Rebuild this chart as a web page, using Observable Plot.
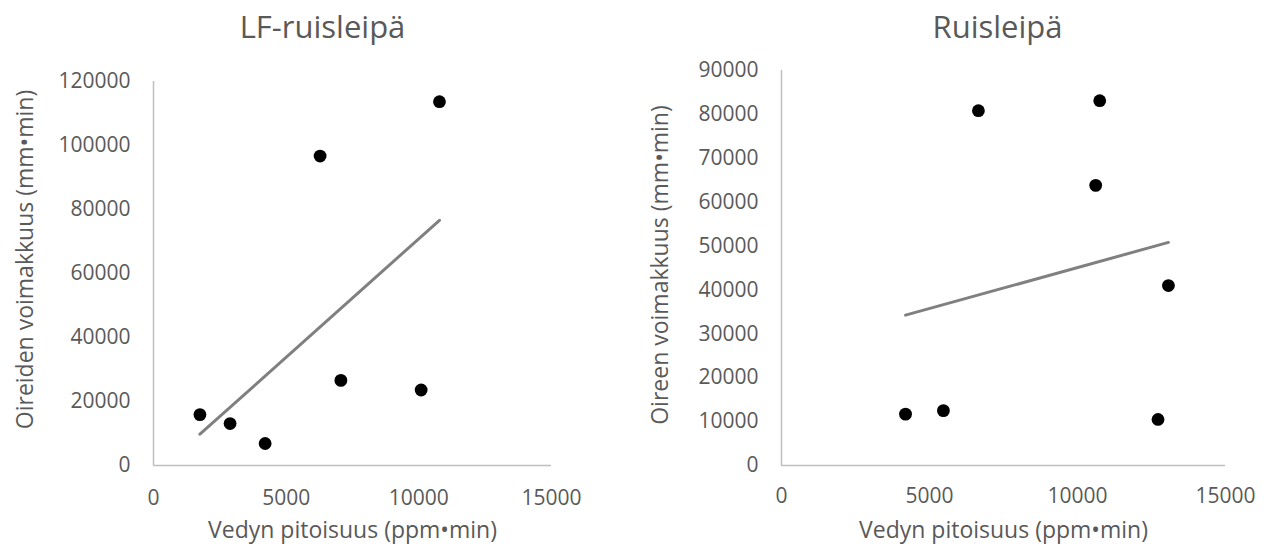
<!DOCTYPE html>
<html><head><meta charset="utf-8">
<script src="https://cdn.jsdelivr.net/npm/d3@7"></script>
<script src="https://cdn.jsdelivr.net/npm/@observablehq/plot@0.6"></script>
<style>
body{margin:0;background:#fff;}
#wrap{position:relative;width:1273px;height:552px;overflow:hidden;background:#fff;}
#left,#right{position:absolute;top:0;}
#left{left:0;}
#right{left:636px;}
</style></head><body>
<div id="wrap"><div id="left"></div><div id="right"></div></div>
<script>
// ---- data ----
const xTicks = [0, 5000, 10000, 15000];
const xLabel = "Vedyn pitoisuus (ppm•min)";

const lfTitle = "LF-ruisleipä";
const lfYLabel = "Oireiden voimakkuus (mm•min)";
const lfYTicks = [0, 20000, 40000, 60000, 80000, 100000, 120000];
const lfX = [1750, 2886, 4207, 6279, 7062, 10087, 10778];
const lfY = [15900, 13100, 6870, 96700, 26600, 23600, 113700];

const rTitle = "Ruisleipä";
const rYLabel = "Oireen voimakkuus (mm•min)";
const rYTicks = [0, 10000, 20000, 30000, 40000, 50000, 60000, 70000, 80000, 90000];
const rX = [4190, 5470, 6652, 10751, 10615, 13072, 12720];
const rY = [11700, 12500, 80850, 83120, 63830, 40990, 10500];

function panel(o) {
  const data = o.xs.map((x, i) => ({x, y: o.ys[i]}));
  return Plot.plot({
    width: o.width, height: 552,
    marginLeft: o.ml, marginRight: o.mr, marginTop: o.mt, marginBottom: o.mb,
    style: {fontFamily: "'Open Sans', sans-serif", fontSize: "21px", color: "#595959", background: "white", overflow: "visible"},
    x: {domain: [0, 15000]},
    y: {domain: [0, o.ymax]},
    marks: [
      Plot.ruleX([0], {stroke: "#bfbfbf", strokeWidth: 1.5}),
      Plot.ruleY([0], {stroke: "#bfbfbf", strokeWidth: 1.5}),
      Plot.axisX(xTicks, {tickSize: 0, tickPadding: o.xpad, tickFormat: d3.format("d"), label: null}),
      Plot.axisY(o.yTicks, {tickSize: 0, tickPadding: 23, tickFormat: d3.format("d"), label: null}),
      Plot.linearRegressionY(data, {x: "x", y: "y", ci: 0, stroke: "#808080", strokeWidth: 3}),
      Plot.dot(data, {x: "x", y: "y", r: 6.4, fill: "black", stroke: "none"}),
      Plot.text([o.title], {text: d => d, frameAnchor: "top", lineAnchor: "bottom", dx: o.tdx, dy: o.tdy, fontSize: 31, fill: "#595959"}),
      Plot.text([o.yLabel], {text: d => d, frameAnchor: "left", rotate: -90, textAnchor: "middle", lineAnchor: "middle", dx: o.ydx, dy: o.ydy, fontSize: 23, fill: "#595959"}),
      Plot.text([xLabel], {text: d => d, frameAnchor: "bottom", lineAnchor: "top", dy: 56, fontSize: 23, fill: "#595959"})
    ]
  });
}

document.getElementById("left").append(panel({
  width: 636, ml: 153, mr: 85, mt: 81, mb: 87, ymax: 120000,
  xs: lfX, ys: lfY, yTicks: lfYTicks, title: lfTitle, yLabel: lfYLabel,
  xpad: 25, tdx: -30, tdy: -44, ydx: -128, ydy: -14
}));
document.getElementById("right").append(panel({
  width: 637, ml: 145, mr: 48, mt: 70, mb: 87, ymax: 90000,
  xs: rX, ys: rY, yTicks: rYTicks, title: rTitle, yLabel: rYLabel,
  xpad: 23, tdx: -6, tdy: -33, ydx: -121, ydy: -3
}));
</script>
</body></html>
